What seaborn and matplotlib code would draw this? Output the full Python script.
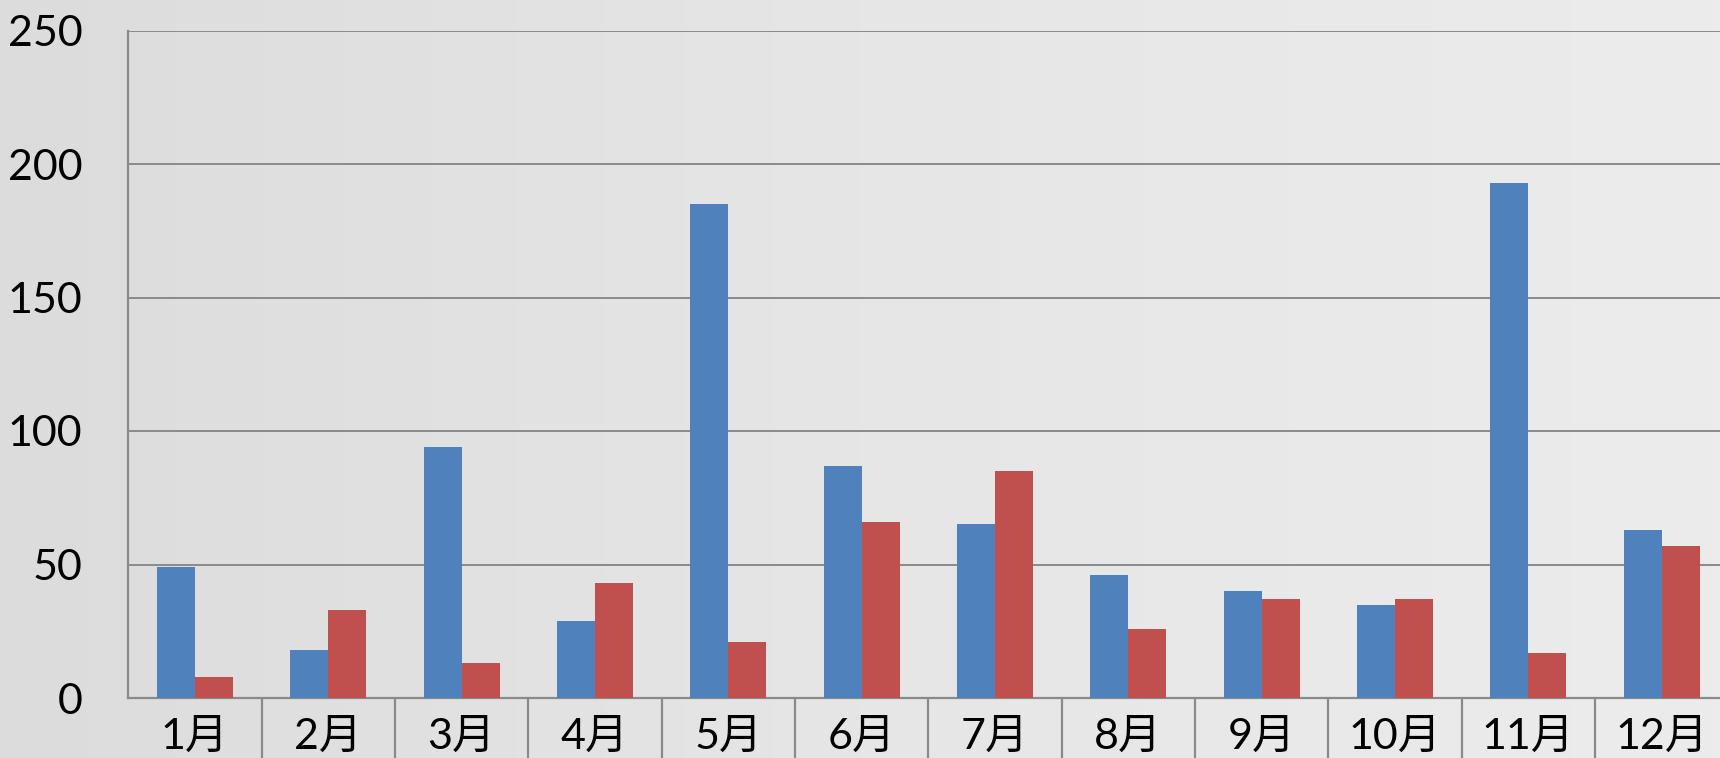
import numpy as np
import pandas as pd
import seaborn as sns
import matplotlib.pyplot as plt
from matplotlib.colors import LinearSegmentedColormap

# monthly values
months = ['1月', '2月', '3月', '4月', '5月', '6月', '7月', '8月', '9月', '10月', '11月', '12月']
series_a = [49, 18, 94, 29, 185, 87, 65, 46, 40, 35, 193, 63]
series_b = [8, 33, 13, 43, 21, 66, 85, 26, 37, 37, 17, 57]
y_ticks = [0, 50, 100, 150, 200, 250]

df = pd.DataFrame({
    'month': months * 2,
    'value': series_a + series_b,
    'series': ['A'] * len(months) + ['B'] * len(months),
})

sns.set_style('white')
plt.rcParams['font.family'] = ['Lato', 'Noto Sans CJK SC', 'DejaVu Sans']

fig = plt.figure(figsize=(17.2, 7.58), dpi=100)

# light grey gradient background
bg = fig.add_axes([0, 0, 1, 1], zorder=-10)
grad = np.linspace(0, 1, 256).reshape(1, -1)
bg.imshow(grad, aspect='auto', extent=[0, 1, 0, 1],
          cmap=LinearSegmentedColormap.from_list('bg', ['#dcdcdc', '#e6e6e6', '#ececec']))
bg.axis('off')

ax = fig.add_axes([128.2 / 1720, 60 / 758, 1600 / 1720, 667.5 / 758])
ax.patch.set_alpha(0)

sns.barplot(data=df, x='month', y='value', hue='series', order=months,
            palette=['#4f81bd', '#c0504d'], saturation=1, width=0.57, gap=0,
            edgecolor='none', legend=False, ax=ax, zorder=3)

ax.set_ylim(0, 250)
ax.set_xlim(-0.5, 11.5)
ax.set_yticks(y_ticks)
ax.grid(axis='y', color='#8a8a8a', linewidth=1.4, zorder=0)
ax.set_axisbelow(True)

for s in ['top', 'right']:
    ax.spines[s].set_visible(False)
for s in ['left', 'bottom']:
    ax.spines[s].set_color('#8a8a8a')
    ax.spines[s].set_linewidth(1.6)

ax.tick_params(axis='y', length=0, pad=33, labelsize=31, labelcolor='black')
ax.tick_params(axis='x', length=0, pad=14, labelsize=31, labelcolor='black')

# separators between the month cells below the axis
ax.vlines(np.arange(0.5, 11.5, 1), -0.15, 0, transform=ax.get_xaxis_transform(),
          colors='#8a8a8a', linewidth=1.6, clip_on=False)

ax.set_xlabel('')
ax.set_ylabel('')

fig.savefig('out.png', dpi=100)
